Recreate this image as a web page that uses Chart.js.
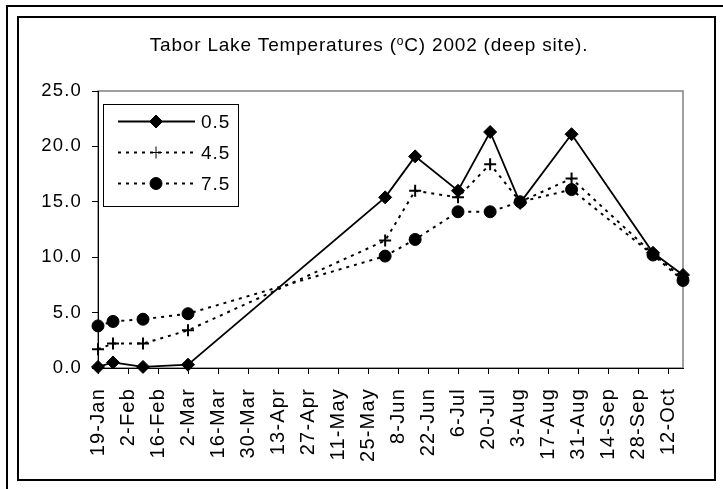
<!DOCTYPE html>
<html>
<head>
<meta charset="utf-8">
<script src="https://cdn.jsdelivr.net/npm/chart.js@4/dist/chart.umd.min.js"></script>
<style>
  body { margin: 0; background: #fff; width: 723px; height: 489px; overflow: hidden; position: relative; }
  .outer { position: absolute; left: 6px; top: 5px; width: 800px; height: 600px; border-left: 2px solid #000; border-top: 2px solid #000; }
  .frame { position: absolute; left: 17px; top: 16px; width: 695px; height: 461px; border: 2px solid #000; }
  canvas { display: block; }
</style>
</head>
<body>
<div class="outer"></div>
<div class="frame"><canvas id="chart" width="695" height="461"></canvas></div>
<script>
// sample dates (2002) and temperatures at each depth (m)
const sampleDates = ["19-Jan", "26-Jan", "9-Feb", "2-Mar", "2-Jun", "16-Jun", "6-Jul", "21-Jul", "4-Aug", "28-Aug", "5-Oct", "19-Oct"];
const depth05 = [0.1, 0.5, 0.1, 0.3, 15.4, 19.1, 16.0, 21.3, 14.9, 21.1, 10.4, 8.4];
const depth45 = [1.7, 2.2, 2.2, 3.4, 11.5, 16.0, 15.4, 18.4, 15.0, 17.1, 10.3, 8.1];
const depth75 = [3.8, 4.2, 4.4, 4.9, 10.1, 11.6, 14.1, 14.1, 15.0, 16.1, 10.2, 7.9];
const seriesNames = ["0.5", "4.5", "7.5"];

const tickLabels = ["19-Jan", "2-Feb", "16-Feb", "2-Mar", "16-Mar", "30-Mar", "13-Apr", "27-Apr", "11-May",
  "25-May", "8-Jun", "22-Jun", "6-Jul", "20-Jul", "3-Aug", "17-Aug", "31-Aug", "14-Sep", "28-Sep", "12-Oct"];
const yTicks = [0, 5, 10, 15, 20, 25];
const axisStart = "19-Jan";
const axisEnd = "19-Oct";

const months = ["Jan", "Feb", "Mar", "Apr", "May", "Jun", "Jul", "Aug", "Sep", "Oct", "Nov", "Dec"];
function dayOf(label) {
  const [d, m] = label.split("-");
  return Date.UTC(2002, months.indexOf(m), +d) / 86400000;
}
const day0 = dayOf(axisStart);
const toX = (label) => dayOf(label) - day0;

const FONT = "'Liberation Sans', Arial, sans-serif";

const spacing = {
  id: "spacing",
  beforeLayout(chart) { chart.ctx.letterSpacing = "1.2px"; },
  beforeDraw(chart) {
    const ctx = chart.ctx;
    ctx.letterSpacing = "1.2px";
    const a = chart.chartArea;
    ctx.save();
    ctx.strokeStyle = "#808080";
    ctx.lineWidth = 1.5;
    ctx.strokeRect(a.left, a.top, a.right - a.left, a.bottom - a.top);
    ctx.restore();
  }
};

const titlePlugin = {
  id: "excelTitle",
  afterDraw(chart) {
    const ctx = chart.ctx;
    ctx.save();
    ctx.fillStyle = "#000";
    ctx.textBaseline = "alphabetic";
    ctx.letterSpacing = "0.8px";
    const parts = [
      { t: "Tabor Lake Temperatures (", f: "19px " + FONT, dy: 0 },
      { t: "o", f: "12px " + FONT, dy: -6 },
      { t: "C) 2002 (deep site).", f: "19px " + FONT, dy: 0 }
    ];
    let total = 0;
    parts.forEach(p => { ctx.font = p.f; p.w = ctx.measureText(p.t).width; total += p.w; });
    let x = 350 - total / 2;
    parts.forEach(p => { ctx.font = p.f; ctx.fillText(p.t, x, 33 + p.dy); x += p.w; });
    ctx.restore();
  }
};

const legendPlugin = {
  id: "excelLegend",
  afterDraw(chart) {
    const ctx = chart.ctx;
    ctx.save();
    ctx.strokeStyle = "#000";
    ctx.lineWidth = 1;
    ctx.strokeRect(84.5, 86.5, 135, 102);
    const rows = [103.5, 134.5, 165.5];
    chart.data.datasets.forEach((ds, i) => {
      const y = rows[i];
      ctx.save();
      ctx.strokeStyle = "#000";
      ctx.lineWidth = ds.borderWidth;
      ctx.setLineDash(ds.borderDash || []);
      ctx.beginPath();
      ctx.moveTo(99, y);
      ctx.lineTo(176, y);
      ctx.stroke();
      ctx.restore();
      Chart.helpers.drawPoint(ctx, {
        pointStyle: ds.pointStyle, radius: ds.pointRadius, borderWidth: ds.pointBorderWidth, rotation: 0
      }, 137, y);
      ctx.fillStyle = "#000";
      ctx.font = "19px " + FONT;
      ctx.letterSpacing = "1px";
      ctx.textBaseline = "middle";
      ctx.fillText(ds.label, 182, y + 1);
    });
    ctx.restore();
  }
};

function series(values, name, extra) {
  return Object.assign({
    label: name,
    data: values.map((v, i) => ({ x: toX(sampleDates[i]), y: v })),
    borderColor: "#000",
    backgroundColor: "#000",
    pointBackgroundColor: "#000",
    pointBorderColor: "#000",
    tension: 0,
    clip: false
  }, extra);
}

new Chart(document.getElementById("chart"), {
  type: "line",
  data: {
    datasets: [
      series(depth05, seriesNames[0], { borderWidth: 1.8, pointStyle: "rectRot", pointRadius: 6.5, pointBorderWidth: 1 }),
      series(depth45, seriesNames[1], { borderWidth: 2, borderDash: [3, 5], pointStyle: "cross", pointRadius: 6, pointBorderWidth: 2 }),
      series(depth75, seriesNames[2], { borderWidth: 2, borderDash: [3, 5], pointStyle: "circle", pointRadius: 6, pointBorderWidth: 1 })
    ]
  },
  options: {
    responsive: false,
    animation: false,
    events: [],
    layout: { padding: { top: 73, right: 31, bottom: 0, left: 0 } },
    plugins: { legend: { display: false }, title: { display: false }, tooltip: { enabled: false } },
    scales: {
      x: {
        type: "linear",
        min: 0,
        max: toX(axisEnd),
        afterBuildTicks: (scale) => { scale.ticks = tickLabels.map(l => ({ value: toX(l) })); },
        afterFit: (scale) => { scale.height = 111; },
        grid: { drawOnChartArea: false, drawTicks: true, tickLength: 6, color: "#000" },
        border: { color: "#000", width: 1 },
        ticks: {
          autoSkip: false, minRotation: 90, maxRotation: 90, padding: 14,
          color: "#000", font: { family: FONT, size: 20 },
          callback: (v, i) => tickLabels[i]
        }
      },
      y: {
        min: 0,
        max: 25,
        afterBuildTicks: (scale) => { scale.ticks = yTicks.map(v => ({ value: v })); },
        afterFit: (scale) => { scale.width = 79; },
        grid: { drawOnChartArea: false, drawTicks: true, tickLength: 6, color: "#000" },
        border: { color: "#000", width: 1 },
        ticks: {
          padding: 10, color: "#000", font: { family: FONT, size: 18.5 },
          callback: (v) => v.toFixed(1)
        }
      }
    }
  },
  plugins: [spacing, titlePlugin, legendPlugin]
});
</script>
</body>
</html>
